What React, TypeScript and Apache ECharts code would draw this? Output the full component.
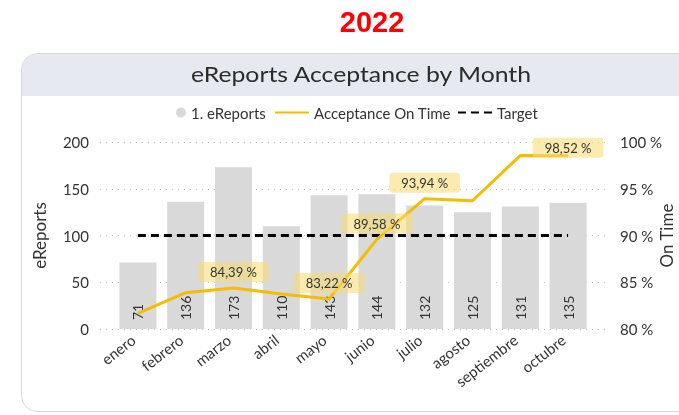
import React, { useEffect, useRef } from "react";
import * as echarts from "echarts";

const months = ["enero", "febrero", "marzo", "abril", "mayo", "junio", "julio", "agosto", "septiembre", "octubre"];
const eReports = [71, 136, 173, 110, 143, 144, 132, 125, 131, 135];
const acceptance = [81.68, 83.88, 84.39, 83.74, 83.22, 89.58, 93.94, 93.72, 98.55, 98.52];
const labelledPoints = [false, false, true, false, true, true, true, false, false, true];
const target = [90, 90, 90, 90, 90, 90, 90, 90, 90, 90];
const leftTicks = { min: 0, max: 200, interval: 50 };
const rightTicks = { min: 80, max: 100, interval: 5 };

const FONT = "Lato, 'Noto Sans', sans-serif";
const fmtPct = (v: number) => v.toFixed(2).replace(".", ",") + " %";

const W = 720;
const H = 415;

export default function App() {
  const ref = useRef<HTMLDivElement>(null);
  useEffect(() => {
    if (!ref.current) return;
    const chart = echarts.init(ref.current, undefined, { renderer: "svg" });
    const gridTop = 142;
    const gridBottom = H - 329;
    const legendText = { color: "#333", fontSize: 15, fontFamily: FONT };
    chart.setOption({
      animation: false,
      textStyle: { fontFamily: FONT },
      graphic: {
        elements: [
          {
            type: "rect",
            z: -10,
            shape: { x: 21.5, y: 53.5, width: 690, height: 358, r: 16 },
            style: { fill: "#ffffff", stroke: "#d3d7dd", lineWidth: 1 },
          },
          {
            type: "rect",
            z: -9,
            shape: { x: 22, y: 54, width: 689, height: 42, r: [15.5, 15.5, 0, 0] },
            style: { fill: "#e6eaf0" },
          },
          {
            type: "text",
            z: 10,
            x: 372,
            y: 22,
            style: {
              text: "2022",
              fill: "#ff0000",
              font: "bold 29px 'Liberation Sans', Arial, sans-serif",
              textAlign: "center",
              textVerticalAlign: "middle",
            },
          },
          {
            type: "text",
            z: 10,
            x: 361,
            y: 74,
            scaleX: 1.18,
            style: {
              text: "eReports Acceptance by Month",
              fill: "#2b2b2b",
              font: "21px Lato, sans-serif",
              textAlign: "center",
              textVerticalAlign: "middle",
            },
          },
        ],
      },
      legend: [
        {
          top: 105,
          left: 176,
          itemWidth: 10,
          itemHeight: 10,
          itemGap: 10,
          textStyle: legendText,
          padding: 0,
          data: [{ name: "1. eReports", icon: "circle", itemStyle: { color: "#d9d9d9" } }],
        },
        {
          top: 105,
          left: 274,
          itemWidth: 34,
          itemHeight: 12,
          itemGap: 6,
          textStyle: legendText,
          padding: 0,
          data: [
            { name: "Acceptance On Time", itemStyle: { opacity: 0 } },
            { name: "Target", itemStyle: { opacity: 0 } },
          ],
        },
      ],
      grid: [
        { left: 100, right: W - 605, top: gridTop, bottom: gridBottom, outerBoundsMode: "none" },
        { left: 114, right: W - 592, top: gridTop, bottom: gridBottom, outerBoundsMode: "none" },
      ],
      xAxis: [
        { type: "value", gridIndex: 0, min: 0, max: 1, show: false },
        {
          type: "category",
          gridIndex: 1,
          data: months,
          axisLine: { show: false },
          axisTick: { show: false },
          axisLabel: {
            rotate: 38,
            color: "#333",
            fontSize: 15,
            margin: 5,
            padding: [0, 6, 0, 0],
            fontFamily: FONT,
            interval: 0,
          },
        },
      ],
      yAxis: [
        {
          type: "value",
          gridIndex: 0,
          ...leftTicks,
          name: "eReports",
          nameLocation: "middle",
          nameGap: 52,
          nameTextStyle: { color: "#333", fontSize: 17, fontFamily: FONT },
          axisLine: { show: false },
          axisTick: { show: false },
          axisLabel: { color: "#333", fontSize: 15, margin: 11, fontFamily: FONT },
          splitLine: { lineStyle: { color: "#c4c4c4", type: [1, 5], width: 1 } },
        },
        {
          type: "value",
          gridIndex: 0,
          position: "right",
          ...rightTicks,
          name: "On Time",
          nameLocation: "middle",
          nameGap: 53,
          nameMoveOverlap: false,
          nameTextStyle: { color: "#333", fontSize: 17, fontFamily: FONT },
          axisLine: { show: false },
          axisTick: { show: false },
          axisLabel: {
            color: "#333",
            fontSize: 15,
            margin: 15,
            fontFamily: FONT,
            formatter: (v: number) => v + " %",
          },
          splitLine: { show: false },
        },
        { type: "value", gridIndex: 1, ...leftTicks, show: false, splitLine: { show: false } },
        { type: "value", gridIndex: 1, ...rightTicks, show: false, splitLine: { show: false } },
      ],
      series: [
        {
          name: "1. eReports",
          type: "bar",
          xAxisIndex: 1,
          yAxisIndex: 2,
          data: eReports,
          barWidth: 37,
          itemStyle: { color: "#d9d9d9" },
          label: {
            show: true,
            position: "insideBottom",
            rotate: 90,
            align: "left",
            verticalAlign: "middle",
            distance: 9,
            color: "#333",
            fontSize: 14,
            fontFamily: FONT,
          },
          z: 2,
        },
        {
          name: "Target",
          type: "line",
          xAxisIndex: 1,
          yAxisIndex: 3,
          data: target,
          symbol: "none",
          lineStyle: { color: "#000000", width: 3, type: [8, 5] },
          itemStyle: { color: "#000000" },
          z: 3,
        },
        {
          name: "Acceptance On Time",
          type: "line",
          xAxisIndex: 1,
          yAxisIndex: 3,
          symbol: "circle",
          symbolSize: 0,
          showSymbol: true,
          lineStyle: { color: "#f5bc00", width: 3 },
          itemStyle: { color: "#f5bc00" },
          z: 4,
          data: acceptance.map((v, i) => {
            const isLast = i === acceptance.length - 1;
            return {
              value: v,
              label: labelledPoints[i]
                ? isLast
                  ? { show: true, position: "inside", offset: [0, -8] }
                  : { show: true, position: "top", distance: 6 }
                : { show: false },
            };
          }),
          label: {
            formatter: (p: any) => fmtPct(p.value),
            color: "#333",
            fontSize: 13,
            fontFamily: FONT,
            backgroundColor: "rgba(248, 218, 110, 0.55)",
            padding: [4, 12, 3, 12],
            borderRadius: 4,
          },
        },
      ],
    });
    return () => chart.dispose();
  }, []);
  return <div ref={ref} style={{ position: "fixed", left: 0, top: 0, width: W, height: H }} />;
}
